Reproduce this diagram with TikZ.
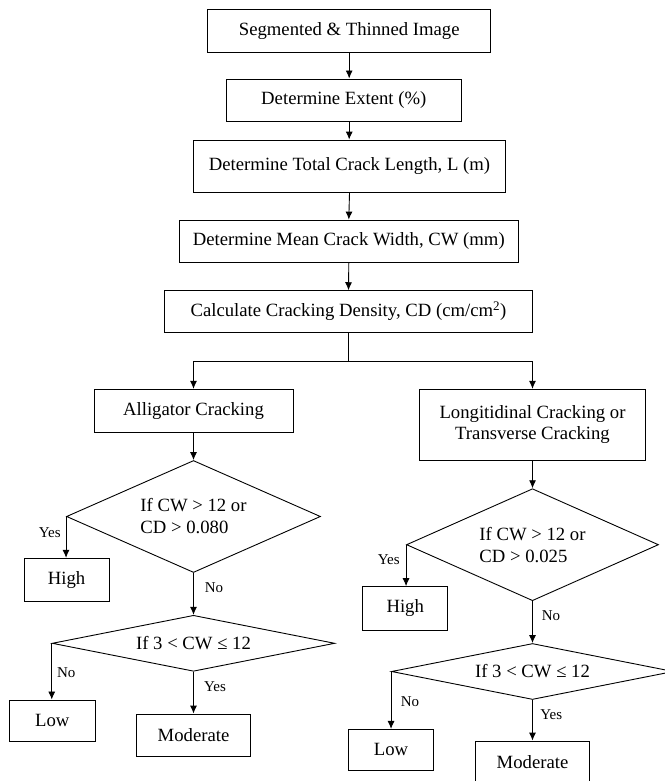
\documentclass[tikz,border=0pt]{standalone}
\usepackage{fontspec}
\setmainfont{Liberation Serif}
\usetikzlibrary{shapes.geometric,arrows.meta}

\begin{document}
\begin{tikzpicture}[x=1pt, y=-1pt, line width=0.9pt,
    box/.style={draw, anchor = center, inner sep=0pt, align=center, font=\fontsize{18.7}{21.5}\selectfont},
    test/.style={draw, diamond, anchor = center, inner sep=0pt, font=\fontsize{18.7}{22}\selectfont},
    tag/.style={anchor = center, font=\fontsize{15}{17}\selectfont},
    arr/.style={-{Latex[length=8pt,width=7pt]}}]
    \useasboundingbox (0,0) rectangle (664,781);
    \node[box, minimum width=283pt, minimum height=43.3pt] (seg) at (349.2,30.7){Segmented \& Thinned Image};
    \node[box, minimum width=235.7pt, minimum height=42pt] (ext) at (343.8,100){Determine Extent (\%)};
    \node[box, minimum width=312.4pt, minimum height=52.3pt] (len) at (349.5,166.2){Determine Total Crack Length, L (m)};
    \node[box, minimum width=339pt, minimum height=42.3pt] (wid) at (348.8,241.2){Determine Mean Crack Width, CW (mm)};
    \node[box, minimum width=367.6pt, minimum height=41.6pt] (calc) at (348.5,311.5){Calculate Cracking Density, CD (cm/cm\textsuperscript{2})};
    \node[box, minimum width=199pt, minimum height=43pt] (alli) at (193.5,410.8){Alligator Cracking};
    \node[box, minimum width=226.7pt, minimum height=70.7pt] (long) at (532.5,424.7){Longitidinal Cracking or\\Transverse Cracking};
    \node[test, aspect=2.27, minimum width=254pt, minimum height=112pt, align=left] (alliA) at (193.5,516.5){If CW > 12 or\\CD > 0.080};
    \node[test, aspect=5, minimum width=282.6pt, minimum height=56pt] (alliB) at (193.5,643.3){If 3 < CW ≤ 12};
    \node[test, aspect=2.25, minimum width=252pt, minimum height=112pt, align=left] (longA) at (532.5,544.7){If CW > 12 or\\CD > 0.025};
    \node[test, aspect=5, minimum width=282pt, minimum height=56pt] (longB) at (532.5,671.5){If 3 < CW ≤ 12};
    \node[box, minimum width=85pt, minimum height=43.4pt] (alliHigh) at (66.5,580){High};
    \node[box, minimum width=85.3pt, minimum height=41.7pt] (alliLow) at (52.3,720.8){Low};
    \node[box, minimum width=114pt, minimum height=42pt] (alliMod) at (193.5,735){Moderate};
    \node[box, minimum width=85pt, minimum height=43.3pt] (longHigh) at (405.2,608.3){High};
    \node[box, minimum width=84.6pt, minimum height=40.7pt] (longLow) at (391,749.7){Low};
    \node[box, minimum width=113.3pt, minimum height=42pt] (longMod) at (532.5,762){Moderate};
    \draw[arr] (seg.south) -- (seg.south |- ext.north);
    \draw[arr] (seg.south |- ext.south) -- (seg.south |- len.north);
    \draw[arr] (len.south) -- (wid.north);
    \draw[arr] (wid.south) -- (calc.north);
    \draw (calc.south) -- ++(0,29) coordinate (fork);
    \draw[arr] (fork) -| (alli.north);
    \draw[arr] (fork) -| (long.north);
    \draw[arr] (alli.south) -- (alliA.north);
    \draw[arr] (alliA.west) -- (alliA.west |- alliHigh.north);
    \draw[arr] (alliA.south) -- (alliB.north);
    \draw[arr] (alliB.west) -- (alliB.west |- alliLow.north);
    \draw[arr] (alliB.south) -- (alliMod.north);
    \draw[arr] (long.south) -- (longA.north);
    \draw[arr] (longA.west) -- (longA.west |- longHigh.north);
    \draw[arr] (longA.south) -- (longB.north);
    \draw[arr] (longB.west) -- (longB.west |- longLow.north);
    \draw[arr] (longB.south) -- (longMod.north);
    \node[tag] (alliYesA) at (49.7,533){Yes};
    \node[tag] (alliNoA) at (214,588){No};
    \node[tag] (alliNoB) at (66.3,672.7){No};
    \node[tag] (alliYesB) at (215,686.7){Yes};
    \node[tag] (longYesA) at (388.8,560){Yes};
    \node[tag] (longNoA) at (551,616){No};
    \node[tag] (longNoB) at (410,701.7){No};
    \node[tag] (longYesB) at (551.3,715){Yes};
\end{tikzpicture}
\end{document}
